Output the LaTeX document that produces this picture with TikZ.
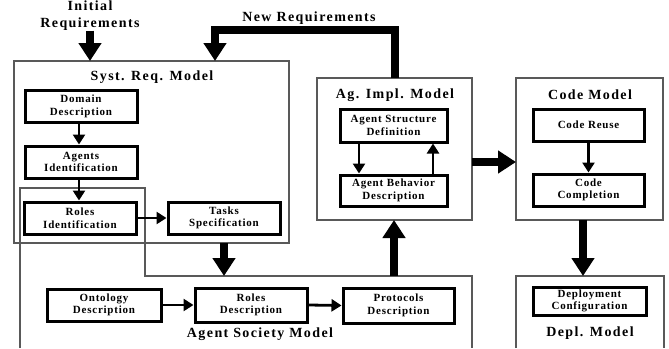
\documentclass[tikz,border=0pt]{standalone}
\usepackage{fontspec}
\setmainfont{Liberation Serif}
\newfontfamily\boxfont{Liberation Serif}[LetterSpace=7]
\newfontfamily\ttlfont{Liberation Serif}[LetterSpace=10]
\usetikzlibrary{arrows.meta,calc}
\begin{document}
\begin{tikzpicture}[x=1pt,y=-1pt,
 inbox/.style={draw, line width=3pt, minimum width=112pt, minimum height=32pt, inner sep=0pt, align=center, font=\boxfont\bfseries\fontsize{11}{12.5}\selectfont},
 frame/.style={draw=black!65, line width=1.1pt},
 ttl/.style={font=\ttlfont\bfseries\fontsize{14}{17}\selectfont, inner sep=0pt, align=center},
 smallarrow/.style={line width=2.8pt, -{Triangle[width=12pt,length=10pt]}},
 bigarrow/.style={line width=8pt, line join=miter, -{Triangle[width=22pt,length=18pt]}},
]
\useasboundingbox (0,0) rectangle (669,348);
% frames
\draw[frame] (14,61) rectangle (289,243);
\draw[frame] (317,78) rectangle (472,220);
\draw[frame] (516,78) rectangle (663,220);
\draw[frame] (516,348) -- (516,276) -- (664,276) -- (664,348);
\draw[frame] (20,348) -- (20,188) -- (145,188) -- (145,276) -- (472,276) -- (472,348);
\coordinate (srmbot) at (0,243);
\coordinate (asmtop) at (0,276);
\coordinate (aimtop) at (0,78);
\coordinate (aimbot) at (0,220);
% titles
\node[ttl] (tsrm) at (152,77) {Syst. Req. Model};
\node[ttl] (taim) at (395,95) {Ag. Impl. Model};
\node[ttl] (tcm) at (590,95) {Code Model};
\node[ttl] (tasm) at (260,334) {Agent Society Model};
\node[ttl] (tdm) at (590,333) {Depl. Model};
\node[ttl] (init) at (90,15.5) {Initial\\Requirements};
\node[ttl] (newreq) at (309,18) {New Requirements};
% inner boxes
\node[inbox] (dom) at (81,106.5) {Domain\\Description};
\node[inbox] (agi) at (81,162) {Agents\\Identification};
\node[inbox] (rid) at (80,218) {Roles\\Identification};
\node[inbox] (tsk) at (224,218) {Tasks\\Specification};
\node[inbox, minimum width=114pt] (ont) at (104,305) {Ontology\\Description};
\node[inbox, minimum height=34pt] (rdesc) at (251,305) {Roles\\Description};
\node[inbox, minimum width=111pt, minimum height=35pt] (prot) at (398.5,305.5) {Protocols\\Description};
\node[inbox, minimum width=107pt, minimum height=33pt] (asd) at (393.5,125.5) {Agent Structure\\Definition};
\node[inbox, minimum width=107pt, minimum height=31pt] (abd) at (393.5,190.5) {Agent Behavior\\Description};
\node[inbox, minimum width=111pt] (cr) at (588.5,125) {Code Reuse};
\node[inbox, minimum width=111pt] (cc) at (588.5,190) {Code\\Completion};
\node[inbox, minimum width=113pt, minimum height=28pt] (dep) at (589.5,301) {Deployment\\Configuration};
% small arrows
\draw[smallarrow] (dom.south -| 79,0) -- (agi.north -| 79,0);
\draw[smallarrow] (agi.south -| 79,0) -- (rid.north -| 79,0);
\draw[smallarrow] (rid.east) -- (tsk.west);
\draw[smallarrow] (ont.east) -- (rdesc.west);
\draw[smallarrow] (rdesc.east) -- (prot.west);
\draw[smallarrow] (asd.south -| 359,0) -- (abd.north -| 359,0);
\draw[smallarrow] (abd.north -| 433,0) -- (asd.south -| 433,0);
\draw[smallarrow] (cr.south) -- (cc.north);
% big arrows
\draw[bigarrow] (init.south) -- (90,61);
\draw[bigarrow] (aimtop -| 395,0) -- (395,30) -- (215,30) -- (215,61);
\draw[bigarrow] (srmbot -| tsk.south) -- (asmtop -| tsk.south);
\draw[bigarrow] (asmtop -| 394,0) -- (aimbot -| 394,0);
\draw[bigarrow] (472,162) -- (516,162);
\draw[bigarrow] (583,220) -- (583,276);
\end{tikzpicture}
\end{document}
